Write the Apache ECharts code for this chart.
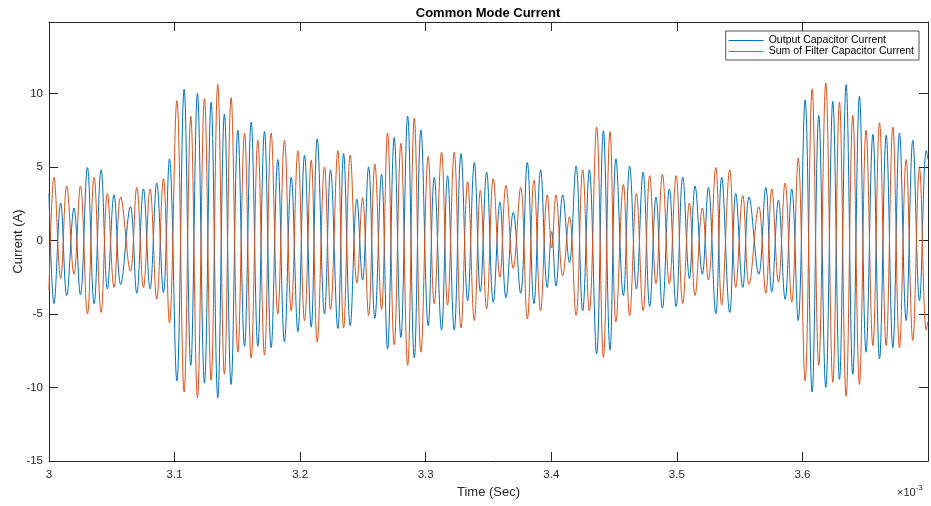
<!DOCTYPE html>
<html>
<head>
<meta charset="utf-8">
<script src="https://cdn.jsdelivr.net/npm/echarts@6/dist/echarts.min.js"></script>
<style>
html,body{margin:0;padding:0;background:#fff;}
#chart{width:931px;height:506px;}
</style>
</head>
<body>
<div id="chart"></div>
<script>
// Time of each extremum (microseconds)
const timesUs = [
3000.0,3004.0,3009.3,3014.1,3019.9,3025.0,3030.6,3035.9,3041.5,3046.5,
3051.8,3057.1,3064.8,3069.9,3075.2,3080.5,3085.8,3091.1,3095.9,3101.8,
3107.6,3112.9,3118.2,3123.8,3129.1,3134.4,3139.7,3145.0,3150.4,3155.7,
3161.0,3166.3,3171.6,3176.9,3182.2,3187.5,3192.9,3198.2,3203.5,3208.8,
3213.6,3219.4,3224.2,3230.0,3234.6,3239.9,3245.2,3249.7,3254.5,3259.5,
3264.8,3269.6,3274.9,3280.2,3285.6,3290.9,3296.2,3302.0,3306.8,3312.6,
3317.4,3322.7,3328.1,3333.4,3338.7,3343.5,3348.5,3353.8,3359.1,3363.9,
3369.7,3375.6,3380.9,3386.2,3391.5,3396.8,3400.3,3403.7,3409.1,3414.4,
3419.7,3425.0,3430.3,3436.1,3441.5,3446.8,3451.5,3457.4,3462.4,3467.8,
3473.1,3478.4,3483.4,3488.5,3494.0,3499.4,3504.7,3510.0,3514.5,3520.3,
3525.1,3531.0,3535.7,3542.1,3546.9,3552.5,3557.5,3565.2,3570.8,3575.6,
3580.9,3586.2,3591.5,3596.6,3602.1,3607.7,3613.0,3618.6,3624.2,3629.5,
3634.8,3640.1,3645.4,3650.7,3656.1,3661.4,3666.7,3672.0,3677.3,3682.6,
3687.9,3693.2,3698.6,3700.0
];
// Output Capacitor Current (A)
const outputCapacitorCurrent = [
3.2,-4.3,2.55,-3.75,2.2,-3.7,4.95,-4.3,4.8,-3.3,
3.1,-3.0,2.3,-3.6,3.5,-3.3,3.9,-3.55,5.55,-9.55,
10.27,-8.5,10.0,-9.7,9.4,-10.7,8.6,-9.8,7.5,-7.2,
8.05,-7.2,7.4,-7.3,5.5,-6.9,4.3,-6.2,5.8,-5.9,
6.9,-5.0,4.8,-6.0,5.9,-5.8,2.8,-2.7,5.0,-5.3,
4.5,-7.4,7.0,-6.6,8.45,-8.0,7.5,-5.8,4.3,-6.1,
4.4,-6.1,5.9,-4.1,5.3,-3.5,4.65,-4.2,2.6,-3.9,
1.9,-3.6,5.3,-4.3,4.8,-3.2,0.6,-3.1,3.1,-1.5,
5.05,-4.8,4.8,-7.7,7.45,-7.45,5.55,-3.75,5.05,-3.3,
4.65,-4.5,2.95,-4.6,3.5,-4.5,4.3,-2.6,3.7,-2.3,
3.6,-5.0,4.3,-4.9,3.2,-3.2,2.95,-2.3,3.6,-3.5,
2.75,-4.0,3.5,-5.45,9.55,-10.3,8.5,-10.0,9.45,-9.45,
10.6,-9.1,9.8,-7.6,7.2,-8.05,7.15,-7.3,7.3,-5.45,
6.8,-4.1,6.1,5.5
];
// Sum of Filter Capacitor Current (A)
const sumFilterCapacitorCurrent = [
-3.4,4.3,-2.6,3.7,-2.3,3.7,-5.0,4.3,-4.9,3.2,
-3.2,2.95,-2.1,3.6,-3.2,3.5,-4.0,4.2,-5.6,9.5,
-10.3,8.45,-10.7,9.65,-9.5,10.6,-9.1,9.7,-7.6,7.3,
-8.0,6.8,-7.8,7.3,-5.0,6.8,-4.8,6.1,-5.45,5.45,
-6.9,5.0,-4.7,6.1,-5.95,5.8,-2.9,2.9,-5.1,5.2,
-4.7,7.3,-7.1,6.6,-8.5,8.3,-7.6,5.7,-4.3,6.0,
-4.4,6.0,-5.95,4.0,-5.45,3.4,-4.65,4.2,-2.5,3.75,
-1.9,3.6,-5.35,4.1,-4.8,3.1,-0.5,3.1,-2.4,1.6,
-5.1,4.8,-4.8,7.7,-7.95,7.4,-5.55,3.8,-5.1,3.2,
-4.8,4.4,-2.95,4.5,-2.95,4.4,-4.3,2.55,-3.75,2.2,
-2.7,4.95,-4.4,4.8,-3.2,3.05,-3.0,2.3,-3.6,3.5,
-2.85,3.9,-4.2,5.6,-9.55,10.3,-8.5,10.7,-9.65,9.4,
-10.6,8.5,-9.8,7.5,-7.15,8.0,-7.15,7.7,-7.3,5.5,
-6.8,4.9,-6.1,-5.5
];
const seriesNames = ['Output Capacitor Current','Sum of Filter Capacitor Current'];
const xTicks = [3000, 3700, 100];
const yTicks = [-15, 14.85, 5];

const FONT = '"Liberation Sans", Arial, Helvetica, sans-serif';
const AX = '#262626';

const chart = echarts.init(document.getElementById('chart'), null, {renderer:'canvas'});
const pairs = arr => timesUs.map((t,i)=>[t, arr[i]]);

const baseX = {
  type:'value', min:xTicks[0], max:xTicks[1], interval:xTicks[2],
  axisLine:{show:true, onZero:false, lineStyle:{color:AX, width:1}},
  axisTick:{show:true, inside:true, length:9, lineStyle:{color:AX}},
  splitLine:{show:false}
};
const baseY = {
  type:'value', min:yTicks[0], max:yTicks[1], interval:yTicks[2],
  axisLine:{show:true, onZero:false, lineStyle:{color:AX, width:1}},
  axisTick:{show:true, inside:true, length:9, lineStyle:{color:AX}},
  splitLine:{show:false}
};

chart.setOption({
  animation:false,
  backgroundColor:'#fff',
  title:{
    text:'Common Mode Current', left:488, top:7, textAlign:'center', padding:0,
    textStyle:{fontFamily:FONT, fontWeight:'bold', fontSize:13, color:'#000'}
  },
  grid:{left:49, right:3, top:22, bottom:45, containLabel:false, outerBoundsMode:'none'},
  legend:{
    data:seriesNames, orient:'vertical', right:12, top:31,
    backgroundColor:'#fff', borderColor:AX, borderWidth:0.8, borderRadius:0,
    padding:[4,5,3,3], itemGap:0, itemWidth:35, itemHeight:1.2, itemTextGap:6,
    icon:'rect',
    textStyle:{fontFamily:FONT, fontSize:10.5, color:'#000', lineHeight:11}
  },
  xAxis:[
    Object.assign({}, baseX, {
      position:'bottom',
      name:'Time (Sec)', nameLocation:'middle', nameGap:25, nameMoveOverlap:false,
      nameTextStyle:{fontFamily:FONT, fontSize:13, color:AX},
      axisLabel:{show:true, margin:8, fontFamily:FONT, fontSize:11.5, color:AX,
        formatter:v => (v >= 3650 ? '' : String(+(v/1000).toFixed(1)))}
    }),
    Object.assign({}, baseX, {position:'top', axisLabel:{show:false}})
  ],
  yAxis:[
    Object.assign({}, baseY, {
      position:'left',
      name:'Current (A)', nameLocation:'middle', nameGap:24, nameRotate:90, nameMoveOverlap:false,
      nameTextStyle:{fontFamily:FONT, fontSize:13, color:AX},
      axisLabel:{show:true, margin:6, fontFamily:FONT, fontSize:11.5, color:AX,
        formatter:v => (v > 12 ? '' : String(v))}
    }),
    Object.assign({}, baseY, {position:'right', axisLabel:{show:false}})
  ],
  graphic:[{
    type:'text', left:897, top:481,
    style:{
      text:'{a|×10}{b|-3}', fontFamily:FONT,
      rich:{
        a:{fontSize:11, fontFamily:FONT, fill:AX, verticalAlign:'bottom', lineHeight:14, padding:[6,0,0,0]},
        b:{fontSize:8, fontFamily:FONT, fill:AX, verticalAlign:'top', lineHeight:10}
      }
    }
  }],
  series:[
    {name:seriesNames[0], type:'line', data:pairs(outputCapacitorCurrent), xAxisIndex:0, yAxisIndex:0,
     showSymbol:false, smooth:0.4, color:'#0072BD', lineStyle:{width:1, color:'#0072BD'}},
    {name:seriesNames[1], type:'line', data:pairs(sumFilterCapacitorCurrent), xAxisIndex:0, yAxisIndex:0,
     showSymbol:false, smooth:0.4, color:'#D95319', lineStyle:{width:1, color:'#D95319'}}
  ]
});
</script>
</body>
</html>
